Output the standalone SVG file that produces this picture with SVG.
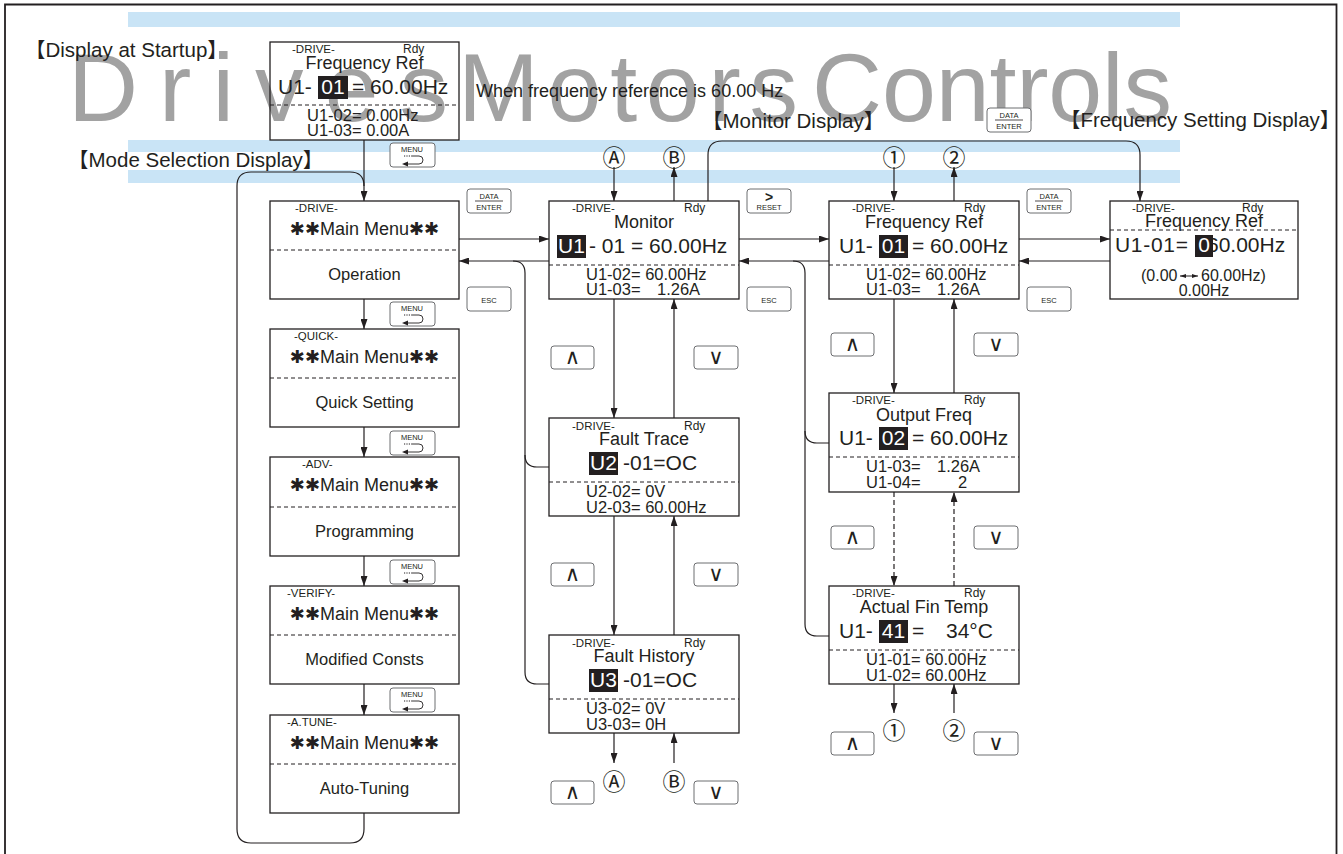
<svg xmlns="http://www.w3.org/2000/svg" width="1343" height="854" viewBox="0 0 1343 854">
<style>
text{font-family:"Liberation Sans",Arial,"Noto Sans CJK JP",sans-serif;fill:#231f20}
.s11{font-size:11.5px}
.s12{font-size:12px}
.s16{font-size:16.5px}
.s18{font-size:18px}
.s21{font-size:21px}
.lbl{font-size:20.5px}
.m{text-anchor:middle}
.w{fill:#fff}
.bx{fill:none;stroke:#231f20;stroke-width:1.3}
.dsh{stroke:#231f20;stroke-width:1;stroke-dasharray:4 3}
.hl{fill:#231f20}
.ln{fill:none;stroke:#231f20;stroke-width:1.2}
.ar{marker-end:url(#ah)}
.dd{stroke-dasharray:5 3}
.btn{fill:#fff;stroke:#6d6e71;stroke-width:1}
.bt{font-size:7.5px}
.ast{font-family:"DejaVu Sans",sans-serif}
.cir{font-family:"Noto Sans CJK JP",sans-serif;font-size:23px;text-anchor:middle}
.band{fill:#c9e4f6}
.wm{font-size:97px;fill:#a2a2a2}
.key{font-family:"DejaVu Sans",sans-serif;font-size:21px;text-anchor:middle}
.thin{fill:none;stroke:#231f20;stroke-width:0.9}
.dot{fill:none;stroke:#231f20;stroke-width:1;stroke-dasharray:1.2 1.2}
</style>
<defs>
<marker id="ah" viewBox="0 0 10 7" refX="10" refY="3.5" markerWidth="10" markerHeight="7" markerUnits="userSpaceOnUse" orient="auto"><path d="M0,0 L10,3.5 L0,7 z" fill="#231f20"/></marker>
<marker id="sa" viewBox="0 0 6 4" refX="6" refY="2" markerWidth="6" markerHeight="4" markerUnits="userSpaceOnUse" orient="auto-start-reverse"><path d="M0,0 L6,2 L0,4 z" fill="#231f20"/></marker>
</defs>

<g id="background">
<rect class="band" x="128" y="12" width="1052" height="15"/>
<rect class="band" x="128" y="140" width="1052" height="12"/>
<rect class="band" x="128" y="170" width="1052" height="13"/>
<text class="wm" x="68" y="121" textLength="380" lengthAdjust="spacing">Drives</text>
<text class="wm" x="458" y="121" textLength="340" lengthAdjust="spacing">Motors</text>
<text class="wm" x="812" y="121" textLength="360" lengthAdjust="spacing">Controls</text>
<path d="M5,858 V4.5 H1336.5 V858" fill="none" stroke="#231f20" stroke-width="1.8"/>
</g>

<g id="labels">
<text class="lbl" x="25" y="57">【Display at Startup】</text>
<text class="lbl" x="68" y="167">【Mode Selection Display】</text>
<text class="lbl" x="702" y="128">【Monitor Display】</text>
<text class="lbl" x="1060" y="127">【Frequency Setting Display】</text>
<text x="476" y="97" style="font-size:18px">When frequency reference is 60.00 Hz</text>
</g>

<g id="connectors">
<path class="ln ar" d="M364,140 V201"/>
<path class="ln" d="M364,813 V829 Q364,843 350,843 H251 Q237,843 237,829 V186 Q237,172 251,172 H350 Q364,172 364,186"/>
<path class="ln ar" d="M364,299 V329"/>
<path class="ln ar" d="M364,427 V457"/>
<path class="ln ar" d="M364,556 V586"/>
<path class="ln ar" d="M364,684 V715"/>
<path class="ln ar" d="M459,239 H549"/>
<path class="ln ar" d="M549,261 H459"/>
<path class="ln ar" d="M739,239 H829"/>
<path class="ln ar" d="M829,261 H739"/>
<path class="ln ar" d="M1019,239 H1110"/>
<path class="ln ar" d="M1110,261 H1019"/>
<path class="ln ar" d="M708,201 V155 Q708,141 722,141 H1126 Q1140,141 1140,155 V201"/>
<path class="ln ar" d="M614,167 V201"/>
<path class="ln ar" d="M674,201 V167"/>
<path class="ln ar" d="M894,167 V201"/>
<path class="ln ar" d="M954,201 V167"/>
<path class="ln ar" d="M614,299 V418"/>
<path class="ln ar" d="M674,418 V299"/>
<path class="ln ar" d="M614,516 V635"/>
<path class="ln ar" d="M674,635 V516"/>
<path class="ln ar" d="M614,733 V763"/>
<path class="ln ar" d="M674,763 V733"/>
<path class="ln ar" d="M894,299 V393"/>
<path class="ln ar" d="M954,393 V299"/>
<path class="ln ar dd" d="M894,492 V586"/>
<path class="ln ar dd" d="M954,586 V492"/>
<path class="ln ar" d="M894,684 V713"/>
<path class="ln ar" d="M954,713 V684"/>
<path class="ln" d="M549,684 H537 Q525,684 525,672 V273 Q525,261 513,261"/>
<path class="ln" d="M549,467 H537 Q525,467 525,455"/>
<path class="ln" d="M829,636 H817 Q805,636 805,624 V273 Q805,261 793,261"/>
<path class="ln" d="M829,443 H817 Q805,443 805,431"/>
<text class="cir" x="614" y="166">Ⓐ</text>
<text class="cir" x="674" y="166">Ⓑ</text>
<text class="cir" x="894" y="166">①</text>
<text class="cir" x="954" y="166">②</text>
<text class="cir" x="614" y="790">Ⓐ</text>
<text class="cir" x="674" y="790">Ⓑ</text>
<text class="cir" x="894" y="739">①</text>
<text class="cir" x="954" y="739">②</text>
</g>

<g id="startup">
<rect class="bx" x="270" y="42" width="189" height="98"/>
<text class="s11" x="292" y="53">-DRIVE-</text>
<text class="s12" x="403" y="53">Rdy</text>
<text class="s18 m" x="364.5" y="69">Frequency Ref</text>
<text class="s21" x="278" y="94">U1-</text>
<rect class="hl" x="318" y="76" width="30" height="23"/>
<text class="s21 w m" x="333" y="94">01</text>
<text class="s21" x="352" y="94">= 60.00Hz</text>
<line class="dsh" x1="270" y1="105" x2="459" y2="105"/>
<text class="s16" x="307" y="121">U1-02= 0.00Hz</text>
<text class="s16" x="307" y="136">U1-03= 0.00A</text>
</g>

<g id="menu-drive">
<rect class="bx" x="270" y="201" width="189" height="98"/>
<text class="s11" x="295" y="212">-DRIVE-</text>
<text class="s18 m" x="364.5" y="235"><tspan class="ast">✱✱</tspan>Main Menu<tspan class="ast">✱✱</tspan></text>
<line class="dsh" x1="270" y1="250" x2="459" y2="250"/>
<text class="s16 m" x="364.5" y="280">Operation</text>
</g>

<g id="menu-quick">
<rect class="bx" x="270" y="329" width="189" height="98"/>
<text class="s11" x="294" y="340">-QUICK-</text>
<text class="s18 m" x="364.5" y="363"><tspan class="ast">✱✱</tspan>Main Menu<tspan class="ast">✱✱</tspan></text>
<line class="dsh" x1="270" y1="378" x2="459" y2="378"/>
<text class="s16 m" x="364.5" y="408">Quick Setting</text>
</g>

<g id="menu-adv">
<rect class="bx" x="270" y="457" width="189" height="99"/>
<text class="s11" x="302" y="468">-ADV-</text>
<text class="s18 m" x="364.5" y="491"><tspan class="ast">✱✱</tspan>Main Menu<tspan class="ast">✱✱</tspan></text>
<line class="dsh" x1="270" y1="507" x2="459" y2="507"/>
<text class="s16 m" x="364.5" y="537">Programming</text>
</g>

<g id="menu-verify">
<rect class="bx" x="270" y="586" width="189" height="98"/>
<text class="s11" x="287" y="597">-VERIFY-</text>
<text class="s18 m" x="364.5" y="620"><tspan class="ast">✱✱</tspan>Main Menu<tspan class="ast">✱✱</tspan></text>
<line class="dsh" x1="270" y1="635" x2="459" y2="635"/>
<text class="s16 m" x="364.5" y="665">Modified Consts</text>
</g>

<g id="menu-atune">
<rect class="bx" x="270" y="715" width="189" height="98"/>
<text class="s11" x="287" y="726">-A.TUNE-</text>
<text class="s18 m" x="364.5" y="749"><tspan class="ast">✱✱</tspan>Main Menu<tspan class="ast">✱✱</tspan></text>
<line class="dsh" x1="270" y1="764" x2="459" y2="764"/>
<text class="s16 m" x="364.5" y="794">Auto-Tuning</text>
</g>

<g id="monitor">
<rect class="bx" x="549" y="201" width="190" height="98"/>
<text class="s11" x="572" y="212">-DRIVE-</text>
<text class="s12" x="684" y="212">Rdy</text>
<text class="s18 m" x="644" y="228">Monitor</text>
<rect class="hl" x="557" y="235" width="29" height="23"/>
<text class="s21 w m" x="571.5" y="253">U1</text>
<text class="s21" x="589" y="253">- 01 = 60.00Hz</text>
<line class="dsh" x1="549" y1="265" x2="739" y2="265"/>
<text class="s16" x="586" y="280">U1-02= 60.00Hz</text>
<text class="s16" x="586" y="295">U1-03=</text>
<text class="s16" x="657" y="295">1.26A</text>
</g>

<g id="freq-ref">
<rect class="bx" x="829" y="201" width="190" height="98"/>
<text class="s11" x="852" y="212">-DRIVE-</text>
<text class="s12" x="964" y="212">Rdy</text>
<text class="s18 m" x="924" y="228">Frequency Ref</text>
<text class="s21" x="839" y="253">U1-</text>
<rect class="hl" x="879" y="235" width="29" height="23"/>
<text class="s21 w m" x="893.5" y="253">01</text>
<text class="s21" x="912" y="253">= 60.00Hz</text>
<line class="dsh" x1="829" y1="265" x2="1019" y2="265"/>
<text class="s16" x="866" y="280">U1-02= 60.00Hz</text>
<text class="s16" x="866" y="295">U1-03=</text>
<text class="s16" x="937" y="295">1.26A</text>
</g>

<g id="freq-setting">
<rect class="bx" x="1110" y="201" width="188" height="98"/>
<text class="s11" x="1132" y="212">-DRIVE-</text>
<text class="s12" x="1242" y="212">Rdy</text>
<text class="s18 m" x="1204" y="227">Frequency Ref</text>
<line class="dsh" x1="1110" y1="230" x2="1298" y2="230"/>
<text class="s21" x="1115" y="252" textLength="73" lengthAdjust="spacing">U1-01=</text>
<text class="s21" x="1207" y="252">60.00Hz</text>
<rect class="hl" x="1195" y="235" width="18" height="22"/>
<text class="s21 w m" x="1204" y="252">0</text>
<text x="1141" y="281" style="font-size:16px">(0.00</text>
<line x1="1180" y1="276" x2="1198" y2="276" stroke="#231f20" stroke-width="1" marker-start="url(#sa)" marker-end="url(#sa)"/>
<text x="1201" y="281" style="font-size:16px">60.00Hz)</text>
<text class="m" x="1204" y="296" style="font-size:16px">0.00Hz</text>
</g>

<g id="fault-trace">
<rect class="bx" x="549" y="418" width="190" height="98"/>
<text class="s11" x="572" y="430">-DRIVE-</text>
<text class="s12" x="684" y="430">Rdy</text>
<text class="s18 m" x="644" y="445">Fault Trace</text>
<rect class="hl" x="589" y="452" width="29" height="23"/>
<text class="s21 w m" x="603.5" y="470">U2</text>
<text class="s21" x="623" y="470">-01=OC</text>
<line class="dsh" x1="549" y1="482" x2="739" y2="482"/>
<text class="s16" x="586" y="497">U2-02= 0V</text>
<text class="s16" x="586" y="513">U2-03= 60.00Hz</text>
</g>

<g id="fault-history">
<rect class="bx" x="549" y="635" width="190" height="98"/>
<text class="s11" x="572" y="647">-DRIVE-</text>
<text class="s12" x="684" y="647">Rdy</text>
<text class="s18 m" x="644" y="662">Fault History</text>
<rect class="hl" x="589" y="669" width="29" height="23"/>
<text class="s21 w m" x="603.5" y="687">U3</text>
<text class="s21" x="623" y="687">-01=OC</text>
<line class="dsh" x1="549" y1="699" x2="739" y2="699"/>
<text class="s16" x="586" y="714">U3-02= 0V</text>
<text class="s16" x="586" y="730">U3-03= 0H</text>
</g>

<g id="output-freq">
<rect class="bx" x="829" y="393" width="190" height="99"/>
<text class="s11" x="852" y="404">-DRIVE-</text>
<text class="s12" x="964" y="404">Rdy</text>
<text class="s18 m" x="924" y="421">Output Freq</text>
<text class="s21" x="839" y="445">U1-</text>
<rect class="hl" x="879" y="427" width="29" height="23"/>
<text class="s21 w m" x="893.5" y="445">02</text>
<text class="s21" x="912" y="445">= 60.00Hz</text>
<line class="dsh" x1="829" y1="457" x2="1019" y2="457"/>
<text class="s16" x="866" y="472">U1-03=</text>
<text class="s16" x="937" y="472">1.26A</text>
<text class="s16" x="866" y="488">U1-04=</text>
<text class="s16" x="958" y="488">2</text>
</g>

<g id="actual-fin-temp">
<rect class="bx" x="829" y="586" width="190" height="98"/>
<text class="s11" x="852" y="597">-DRIVE-</text>
<text class="s12" x="964" y="597">Rdy</text>
<text class="s18 m" x="924" y="613">Actual Fin Temp</text>
<text class="s21" x="839" y="638">U1-</text>
<rect class="hl" x="879" y="620" width="29" height="23"/>
<text class="s21 w m" x="893.5" y="638">41</text>
<text class="s21" x="912" y="638">=</text>
<text class="s21" x="946" y="638">34°C</text>
<line class="dsh" x1="829" y1="650" x2="1019" y2="650"/>
<text class="s16" x="866" y="665">U1-01= 60.00Hz</text>
<text class="s16" x="866" y="681">U1-02= 60.00Hz</text>
</g>

<g id="keys">
<g transform="translate(390,143)"><rect class="btn" width="45" height="24" rx="3"/><text class="bt m" x="22" y="9">MENU</text><path class="dot" d="M14,13 H22"/><path class="thin" d="M22,13 H29 A4,4 0 0 1 29,21 H17"/><path d="M12,21 L18,18.5 L18,23.5 z" fill="#231f20"/></g>
<g transform="translate(390,302)"><rect class="btn" width="45" height="24" rx="3"/><text class="bt m" x="22" y="9">MENU</text><path class="dot" d="M14,13 H22"/><path class="thin" d="M22,13 H29 A4,4 0 0 1 29,21 H17"/><path d="M12,21 L18,18.5 L18,23.5 z" fill="#231f20"/></g>
<g transform="translate(390,431)"><rect class="btn" width="45" height="24" rx="3"/><text class="bt m" x="22" y="9">MENU</text><path class="dot" d="M14,13 H22"/><path class="thin" d="M22,13 H29 A4,4 0 0 1 29,21 H17"/><path d="M12,21 L18,18.5 L18,23.5 z" fill="#231f20"/></g>
<g transform="translate(390,560)"><rect class="btn" width="45" height="24" rx="3"/><text class="bt m" x="22" y="9">MENU</text><path class="dot" d="M14,13 H22"/><path class="thin" d="M22,13 H29 A4,4 0 0 1 29,21 H17"/><path d="M12,21 L18,18.5 L18,23.5 z" fill="#231f20"/></g>
<g transform="translate(390,688)"><rect class="btn" width="45" height="24" rx="3"/><text class="bt m" x="22" y="9">MENU</text><path class="dot" d="M14,13 H22"/><path class="thin" d="M22,13 H29 A4,4 0 0 1 29,21 H17"/><path d="M12,21 L18,18.5 L18,23.5 z" fill="#231f20"/></g>

<g transform="translate(467,189)"><rect class="btn" width="44" height="24" rx="3"/><text class="bt m" x="22" y="10">DATA</text><line x1="8" y1="12" x2="36" y2="12" stroke="#231f20" stroke-width="0.8"/><text class="bt m" x="22" y="21">ENTER</text></g>
<g transform="translate(1027,189)"><rect class="btn" width="44" height="24" rx="3"/><text class="bt m" x="22" y="10">DATA</text><line x1="8" y1="12" x2="36" y2="12" stroke="#231f20" stroke-width="0.8"/><text class="bt m" x="22" y="21">ENTER</text></g>
<g transform="translate(987,108)"><rect class="btn" width="44" height="24" rx="3"/><text class="bt m" x="22" y="10">DATA</text><line x1="8" y1="12" x2="36" y2="12" stroke="#231f20" stroke-width="0.8"/><text class="bt m" x="22" y="21">ENTER</text></g>

<g transform="translate(747,189)"><rect class="btn" width="44" height="24" rx="3"/><text class="m" x="22" y="13" style="font-size:14px;font-weight:bold">&gt;</text><text class="bt m" x="22" y="21">RESET</text></g>

<g transform="translate(467,287)"><rect class="btn" width="44" height="24" rx="3"/><text class="bt m" x="22" y="15.5">ESC</text></g>
<g transform="translate(747,287)"><rect class="btn" width="44" height="24" rx="3"/><text class="bt m" x="22" y="15.5">ESC</text></g>
<g transform="translate(1027,287)"><rect class="btn" width="44" height="24" rx="3"/><text class="bt m" x="22" y="15.5">ESC</text></g>

<g transform="translate(551,346)"><rect class="btn" width="43" height="23" rx="3"/><text class="key" x="21.5" y="18">∧</text></g>
<g transform="translate(694,346)"><rect class="btn" width="44" height="23" rx="3"/><text class="key" x="22" y="18">∨</text></g>
<g transform="translate(551,563)"><rect class="btn" width="43" height="23" rx="3"/><text class="key" x="21.5" y="18">∧</text></g>
<g transform="translate(694,563)"><rect class="btn" width="44" height="23" rx="3"/><text class="key" x="22" y="18">∨</text></g>
<g transform="translate(551,781)"><rect class="btn" width="43" height="23" rx="3"/><text class="key" x="21.5" y="18">∧</text></g>
<g transform="translate(694,781)"><rect class="btn" width="44" height="23" rx="3"/><text class="key" x="22" y="18">∨</text></g>
<g transform="translate(831,333)"><rect class="btn" width="43" height="23" rx="3"/><text class="key" x="21.5" y="18">∧</text></g>
<g transform="translate(974,333)"><rect class="btn" width="44" height="23" rx="3"/><text class="key" x="22" y="18">∨</text></g>
<g transform="translate(831,526)"><rect class="btn" width="43" height="23" rx="3"/><text class="key" x="21.5" y="18">∧</text></g>
<g transform="translate(974,526)"><rect class="btn" width="44" height="23" rx="3"/><text class="key" x="22" y="18">∨</text></g>
<g transform="translate(831,732)"><rect class="btn" width="43" height="23" rx="3"/><text class="key" x="21.5" y="18">∧</text></g>
<g transform="translate(974,732)"><rect class="btn" width="44" height="23" rx="3"/><text class="key" x="22" y="18">∨</text></g>
</g>
</svg>
